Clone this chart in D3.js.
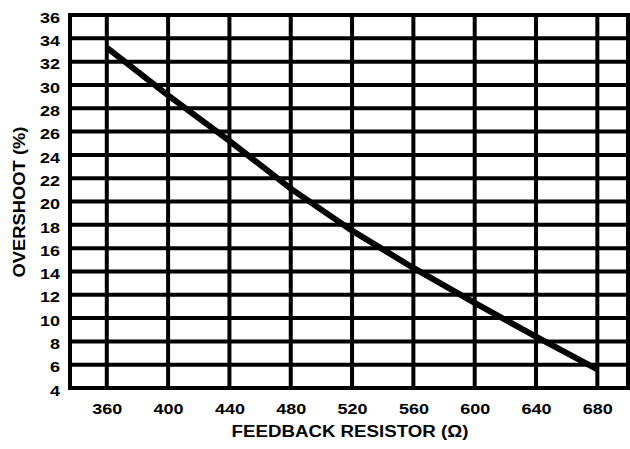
<!DOCTYPE html>
<html><head><meta charset="utf-8">
<script src="https://cdn.jsdelivr.net/npm/d3@7"></script>
<style>body{margin:0;background:#fff}svg{display:block}text{font-family:"Liberation Sans",Arial,sans-serif;font-weight:bold;fill:#000}</style>
</head><body><div id="c"></div>
<script>
const resistance = [360, 400, 440, 480, 520, 560, 600, 640, 680];
const overshoot = [33.2, 29.1, 25.2, 21.1, 17.5, 14.3, 11.3, 8.4, 5.6];
const xTicks = [360, 400, 440, 480, 520, 560, 600, 640, 680];
const yTicks = [4, 6, 8, 10, 12, 14, 16, 18, 20, 22, 24, 26, 28, 30, 32, 34, 36];

const W = 630, H = 449;
const SX = 1.2;
const svg = d3.select("#c").append("svg").attr("width", W).attr("height", H);
const x = d3.scaleLinear().domain([336, 700]).range([70, 628]);
const y = d3.scaleLinear().domain([4, 36]).range([388, 15]);

const g = svg.append("g");
g.selectAll("line.h").data(yTicks).join("line")
  .attr("x1", x(336)).attr("x2", x(700))
  .attr("y1", d => y(d)).attr("y2", d => y(d))
  .attr("stroke", "#000").attr("stroke-width", 4);
g.selectAll("line.v").data(xTicks).join("line")
  .attr("y1", y(4)).attr("y2", y(36))
  .attr("x1", d => x(d)).attr("x2", d => x(d))
  .attr("stroke", "#000").attr("stroke-width", 4);
g.append("rect").attr("x", x(336)).attr("y", y(36))
  .attr("width", x(700) - x(336)).attr("height", y(4) - y(36))
  .attr("fill", "none").attr("stroke", "#000").attr("stroke-width", 4);

const data = resistance.map((r, i) => [r, overshoot[i]]);
svg.append("path").datum(data)
  .attr("d", d3.line().x(d => x(d[0])).y(d => y(d[1])))
  .attr("fill", "none").attr("stroke", "#000").attr("stroke-width", 6);

const yAxis = d3.axisLeft(y).tickValues(yTicks).tickSize(0);
const ya = svg.append("g").attr("transform", `translate(${x(336)},0)`).call(yAxis);
ya.select(".domain").remove();
ya.selectAll("text")
  .style("font-size", "15px").style("font-family", "'Liberation Sans',Arial,sans-serif").style("font-weight", "bold")
  .attr("x", -10 / SX).attr("dy", "0.48em").attr("transform", `scale(${SX},1)`);

const xAxis = d3.axisBottom(x).tickValues(xTicks).tickSize(0);
const xa = svg.append("g").attr("transform", `translate(0,${y(4)})`).call(xAxis);
xa.select(".domain").remove();
xa.selectAll("text")
  .style("font-size", "15px").style("font-family", "'Liberation Sans',Arial,sans-serif").style("font-weight", "bold")
  .attr("y", 26).attr("dy", 0).attr("transform", `scale(${SX},1)`);

svg.append("text").attr("transform", "translate(350,437) scale(1.1,1)").attr("text-anchor", "middle")
  .style("font-size", "17px").text("FEEDBACK RESISTOR (Ω)");
svg.append("text").attr("transform", "translate(25,202) rotate(-90) scale(1.08,1)").attr("text-anchor", "middle")
  .style("font-size", "17px").text("OVERSHOOT (%)");
</script></body></html>
